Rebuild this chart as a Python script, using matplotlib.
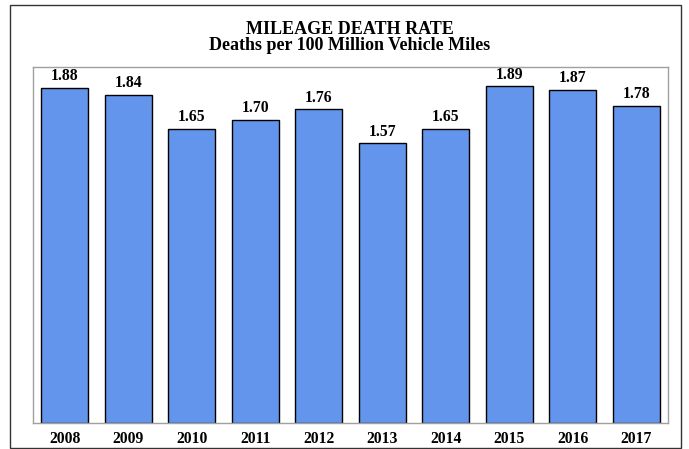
import matplotlib.pyplot as plt
from matplotlib.patches import Rectangle

years = ['2008', '2009', '2010', '2011', '2012', '2013', '2014', '2015', '2016', '2017']
rates = [1.88, 1.84, 1.65, 1.70, 1.76, 1.57, 1.65, 1.89, 1.87, 1.78]

W, H = 689, 449
fig = plt.figure(figsize=(W / 100, H / 100), dpi=100)
plt.rcParams['font.family'] = ['Liberation Serif', 'DejaVu Serif']

# outer frame
fig.patches.append(Rectangle((10 / W, 1 - 448 / H), 671 / W, 443 / H,
                             transform=fig.transFigure, fill=False,
                             edgecolor='#333333', linewidth=1.0))

# plot area
left, right, top, bottom = 33, 668, 66.5, 423
ax = fig.add_axes([left / W, 1 - bottom / H, (right - left) / W, (bottom - top) / H])
x = range(len(years))
ax.bar(x, rates, width=0.74, color='#6495ED', edgecolor='black', linewidth=1.0)
for xi, v in zip(x, rates):
    ax.text(xi, v + 0.02, f'{v:.2f}', ha='center', va='bottom',
            fontsize=11.3, fontweight='bold')

ax.set_xlim(-0.5, len(years) - 0.5)
ax.set_ylim(0, 2.0)
ax.set_yticks([])
ax.set_xticks(list(x))
ax.set_xticklabels(years, fontsize=11.3, fontweight='bold')
ax.tick_params(axis='x', length=0, pad=6)
for s in ax.spines.values():
    s.set_color('#a0a0a0')
    s.set_linewidth(1.0)

fig.text(350 / W, 1 - 29 / H, 'MILEAGE DEATH RATE', ha='center', va='center',
         fontsize=13, fontweight='bold')
fig.text(350 / W, 1 - 46 / H, 'Deaths per 100 Million Vehicle Miles', ha='center',
         va='center', fontsize=13, fontweight='bold')

fig.savefig('out.png', dpi=100)
